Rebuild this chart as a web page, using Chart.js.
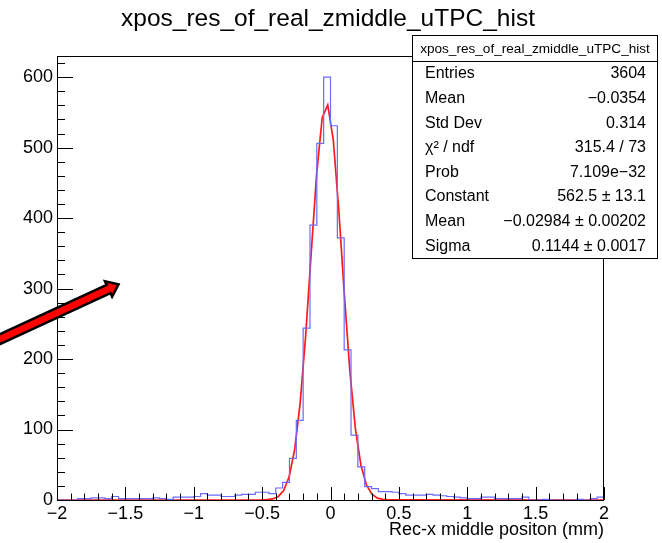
<!DOCTYPE html>
<html>
<head>
<meta charset="utf-8">
<script src="https://cdn.jsdelivr.net/npm/chart.js@4"></script>
<style>
  html, body { margin: 0; padding: 0; background: #fff; }
  #wrap { width: 662px; height: 543px; }
</style>
</head>
<body>
<div id="wrap"><canvas id="histChart" width="662" height="543"></canvas></div>
<script>
// histogram binning (80 bins of 0.05 between -2 and 2)
const xMin = -2;
const xMax = 2;
const binWidth = 0.05;

// bin contents, left to right
const counts = [
    0, 0, 0, 2, 2, 3, 3, 2, 5, 2,
    2, 2, 2, 2, 3, 2, 1, 4, 4, 4,
    5, 9, 7, 7, 5, 5, 7, 8, 8, 11,
    11, 9, 17, 25, 59, 113, 244, 390, 506, 600,
    531, 372, 213, 92, 47, 19, 16, 12, 12, 11,
    9, 7, 7, 7, 8, 7, 6, 5, 4, 3,
    2, 2, 4, 4, 2, 2, 2, 2, 4, 0,
    0, 1, 0, 0, 0, 0, 1, 0, 2, 4
];

// gaussian fit line, points as drawn (x, y)
const fitX = [-2, -0.5455, -0.5051, -0.4646, -0.4242, -0.3838, -0.3434, -0.3030, -0.2626, -0.2222,
    -0.1818, -0.1414, -0.1010, -0.0606, -0.0202, 0.0202, 0.0606, 0.1010, 0.1414, 0.1818,
    0.2222, 0.2626, 0.3030, 0.3434, 0.3838, 0.4242, 0.4646, 2];
const fitY = [0, 0.02, 0.1, 0.41, 1.5, 4.7, 13.1, 32.5, 70.9, 136.8,
    232.7, 349.6, 463.6, 542.5, 560.5, 511.2, 411.5, 292.4, 183.4, 101.6,
    49.7, 21.4, 8.2, 2.7, 0.8, 0.2, 0.05, 0];

// axes
const yTop = 630;
const yTicks = [0, 100, 200, 300, 400, 500, 600];
const xTicks = [-2, -1.5, -1, -0.5, 0, 0.5, 1, 1.5, 2];
const yMinorStep = 20;
const xMinorStep = 0.1;

const titleText = 'xpos_res_of_real_zmiddle_uTPC_hist';
const xTitleText = 'Rec-x middle positon (mm)';

// stats box
const statsTitle = 'xpos_res_of_real_zmiddle_uTPC_hist';
const statsLabels = ['Entries', 'Mean', 'Std Dev', 'χ² / ndf', 'Prob', 'Constant', 'Mean', 'Sigma'];
const statsValues = ['3604', '\u22120.0354', '0.314', '315.4 / 73', '7.109e\u221232',
    '562.5 \u00b1 13.1', '\u22120.02984 \u00b1 0.00202', '0.1144 \u00b1 0.0017'];

// annotation arrow in data units
const arrowTail = { x: -2.43, y: 227 };
const arrowTip = { x: -1.55, y: 306 };

const FONT = '"Liberation Sans", Arial, Helvetica, sans-serif';

const histPoints = counts.map((c, i) => ({ x: xMin + i * binWidth, y: c }));
histPoints.push({ x: xMax, y: counts[counts.length - 1] });
const fitPoints = fitX.map((x, i) => ({ x: x, y: fitY[i] }));

const fmt = v => String(Math.round(v * 100) / 100).replace('-', '\u2212');

// ROOT style frame, inward ticks, arrow, stats box and titles
const rootDecor = {
    id: 'rootDecor',
    afterDatasetsDraw(chart) {
        const { ctx, chartArea: a, scales: { x, y } } = chart;
        ctx.save();
        ctx.strokeStyle = '#000';
        ctx.lineWidth = 1;
        ctx.strokeRect(a.left + 0.5, a.top + 0.5, a.right - a.left - 1, a.bottom - a.top);

        ctx.beginPath();
        for (let v = 0; v <= yTop; v += yMinorStep) {
            const py = Math.round(y.getPixelForValue(v)) + 0.5;
            const len = (v % 100 === 0) ? 16 : 8;
            ctx.moveTo(a.left, py);
            ctx.lineTo(a.left + len, py);
        }
        const nx = Math.round((xMax - xMin) / xMinorStep);
        for (let k = 0; k <= nx; k++) {
            const px = Math.round(x.getPixelForValue(xMin + k * xMinorStep)) + 0.5;
            const len = (k % 5 === 0) ? 13 : 6.5;
            ctx.moveTo(px, a.bottom);
            ctx.lineTo(px, a.bottom - len);
        }
        ctx.stroke();
        ctx.restore();
    },
    afterDraw(chart) {
        const { ctx, scales: { x, y } } = chart;
        ctx.save();

        // arrow
        const x0 = x.getPixelForValue(arrowTail.x), y0 = y.getPixelForValue(arrowTail.y);
        const x1 = x.getPixelForValue(arrowTip.x), y1 = y.getPixelForValue(arrowTip.y);
        const L = Math.hypot(x1 - x0, y1 - y0);
        const ang = Math.atan2(y1 - y0, x1 - x0);
        const hw = 4.5, hl = 11, hh = 8.5;
        ctx.translate(x0, y0);
        ctx.rotate(ang);
        ctx.beginPath();
        ctx.moveTo(0, -hw);
        ctx.lineTo(L - hl, -hw);
        ctx.lineTo(L - hl, -hh);
        ctx.lineTo(L, 0);
        ctx.lineTo(L - hl, hh);
        ctx.lineTo(L - hl, hw);
        ctx.lineTo(0, hw);
        ctx.closePath();
        ctx.fillStyle = '#ff0000';
        ctx.fill();
        ctx.lineWidth = 2.5;
        ctx.lineJoin = 'miter';
        ctx.strokeStyle = '#000';
        ctx.stroke();
        ctx.setTransform(1, 0, 0, 1, 0, 0);

        // titles
        ctx.fillStyle = '#000';
        ctx.font = '24.5px ' + FONT;
        ctx.textAlign = 'center';
        ctx.textBaseline = 'alphabetic';
        ctx.fillText(titleText, 328, 26);

        ctx.font = '18px ' + FONT;
        ctx.textAlign = 'right';
        ctx.fillText(xTitleText, chart.chartArea.right, 535);

        // stats box
        const bx = 412.5, by = 35.5, bw = 245, bh = 223;
        ctx.fillStyle = '#fff';
        ctx.fillRect(bx, by, bw, bh);
        ctx.strokeStyle = '#000';
        ctx.lineWidth = 1;
        ctx.strokeRect(bx, by, bw, bh);
        ctx.beginPath();
        ctx.moveTo(bx, 61.5);
        ctx.lineTo(bx + bw, 61.5);
        ctx.stroke();

        ctx.fillStyle = '#000';
        ctx.textBaseline = 'middle';
        ctx.font = '13.6px ' + FONT;
        ctx.textAlign = 'center';
        ctx.fillText(statsTitle, bx + bw / 2, 49);

        ctx.font = '16px ' + FONT;
        statsLabels.forEach((lab, i) => {
            const ry = 74 + i * 24.6;
            ctx.textAlign = 'left';
            ctx.fillText(lab, 425, ry);
            ctx.textAlign = 'right';
            ctx.fillText(statsValues[i], 646, ry);
        });
        ctx.restore();
    }
};

const tickFont = { family: FONT, size: 18 };

new Chart(document.getElementById('histChart'), {
    type: 'line',
    data: {
        datasets: [
            {
                label: 'hist',
                data: histPoints,
                stepped: true,
                borderColor: '#6b6bff',
                borderWidth: 1.2,
                pointRadius: 0,
                fill: false
            },
            {
                label: 'fit',
                data: fitPoints,
                borderColor: '#ff1a1a',
                borderWidth: 1.7,
                pointRadius: 0,
                tension: 0,
                fill: false
            }
        ]
    },
    plugins: [rootDecor],
    options: {
        responsive: false,
        animation: false,
        devicePixelRatio: 1,
        layout: { padding: { top: 56, right: 58, bottom: 0, left: 0 } },
        plugins: { legend: { display: false }, tooltip: { enabled: false } },
        scales: {
            x: {
                type: 'linear',
                min: xMin,
                max: xMax,
                afterBuildTicks: s => { s.ticks = xTicks.map(v => ({ value: v })); },
                afterFit: s => { s.height = 43; },
                grid: { display: false, drawTicks: false },
                border: { display: false },
                ticks: { padding: 3, color: '#000', font: tickFont, maxRotation: 0, autoSkip: false, callback: v => fmt(v) }
            },
            y: {
                type: 'linear',
                min: 0,
                max: yTop,
                afterBuildTicks: s => { s.ticks = yTicks.map(v => ({ value: v })); },
                afterFit: s => { s.width = 57; },
                grid: { display: false, drawTicks: false },
                border: { display: false },
                ticks: { padding: 4, color: '#000', font: tickFont, callback: v => fmt(v) }
            }
        }
    }
});
</script>
</body>
</html>
